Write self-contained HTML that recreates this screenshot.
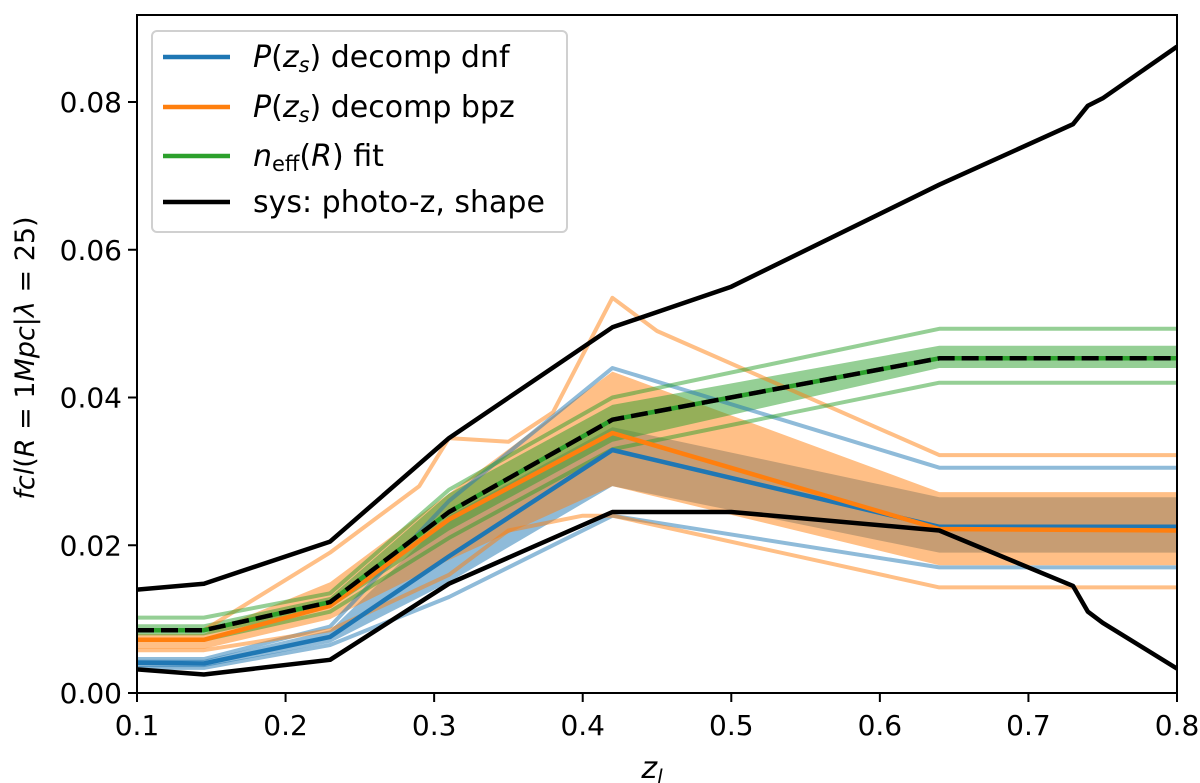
<!DOCTYPE html>
<html><head><meta charset="utf-8"><style>
body{margin:0;background:#fff}
svg text{font-family:"DejaVu Sans","Liberation Sans",sans-serif;fill:#000}
</style></head><body>
<svg id="c" width="1200" height="783" style="position:absolute;left:0;top:0" xmlns="http://www.w3.org/2000/svg"></svg>
<script>
const xs=[0.1,0.145,0.23,0.31,0.42,0.64,0.8];
const dnfMain=[0.0041,0.004,0.0076,0.0185,0.0329,0.0225,0.0225];
const dnfLo=[0.0035,0.0035,0.0068,0.015,0.028,0.019,0.019];
const dnfHi=[0.0045,0.0045,0.0085,0.024,0.036,0.0265,0.0265];
const dnfUp=[0.0046,0.0046,0.009,0.026,0.044,0.0305,0.0305];
const dnfDn=[0.0034,0.0034,0.0065,0.013,0.024,0.017,0.017];
const bpzMain=[0.0072,0.0072,0.0118,0.0235,0.0352,0.0222,0.022];
const bpzLo=[0.006,0.006,0.01,0.018,0.028,0.0173,0.0173];
const bpzHi=[0.008,0.008,0.015,0.027,0.0435,0.0272,0.0272];
const bpzUpX=[0.1,0.145,0.23,0.29,0.31,0.35,0.38,0.42,0.45,0.64,0.8];
const bpzUp=[0.0085,0.0085,0.019,0.028,0.0345,0.034,0.038,0.0535,0.049,0.0322,0.0322];
const bpzDnX=[0.1,0.145,0.23,0.31,0.35,0.4,0.42,0.64,0.8];
const bpzDn=[0.0058,0.0058,0.0085,0.016,0.022,0.024,0.024,0.0143,0.0143];
const effMain=[0.0085,0.0085,0.0123,0.0245,0.037,0.0453,0.0453];
const effLo=[0.0078,0.0078,0.0115,0.022,0.034,0.044,0.044];
const effHi=[0.0093,0.0093,0.013,0.027,0.039,0.047,0.047];
const effUp=[0.0102,0.0102,0.0135,0.0275,0.04,0.0493,0.0493];
const effDn=[0.0072,0.0072,0.011,0.021,0.033,0.042,0.042];
const sysUpX=[0.1,0.145,0.23,0.31,0.42,0.5,0.64,0.73,0.74,0.75,0.8];
const sysUp=[0.014,0.0148,0.0205,0.0345,0.0495,0.055,0.0688,0.077,0.0795,0.0805,0.0875];
const sysDnX=[0.1,0.145,0.23,0.31,0.42,0.5,0.64,0.7,0.73,0.74,0.75,0.8];
const sysDn=[0.0032,0.0025,0.0045,0.0148,0.0245,0.0245,0.022,0.017,0.0145,0.011,0.0095,0.0033];
const xTicks=[0.1,0.2,0.3,0.4,0.5,0.6,0.7,0.8];
const yTicks=[0,0.02,0.04,0.06,0.08];
const X0=137,X1=1177,Y0=693,Y1=15;
const sx=v=>X0+(v-0.1)/0.7*(X1-X0);
const sy=v=>Y0-v*7387.5;
const svg=document.getElementById('c');const NS='http://www.w3.org/2000/svg';
function mk(t,a,p){const e=document.createElementNS(NS,t);for(const k in a)e.setAttribute(k,a[k]);(p||svg).appendChild(e);return e;}
const clip=mk('clipPath',{id:'cp'});mk('rect',{x:X0,y:Y1,width:X1-X0,height:Y0-Y1},clip);
const g=mk('g',{'clip-path':'url(#cp)'});
const pts=(xa,ya)=>xa.map((x,i)=>sx(x).toFixed(1)+','+sy(ya[i]).toFixed(1));
function band(lo,hi,col,name){const p=mk('polygon',{points:pts(xs,hi).concat(pts(xs,lo).reverse()).join(' '),fill:col,'fill-opacity':0.5},g);

}
function line(xa,ya,col,w,op,name,dash){const p=mk('polyline',{points:pts(xa,ya).join(' '),fill:'none',stroke:col,'stroke-width':w,'stroke-opacity':op,'stroke-linejoin':'round'},g);if(dash)p.setAttribute('stroke-dasharray',dash);

}
const B='#1f77b4',O='#ff7f0e',G='#2ca02c';
band(dnfLo,dnfHi,B,'dnf-band');band(bpzLo,bpzHi,O,'bpz-band');band(effLo,effHi,G,'neff-band');
line(xs,dnfUp,B,4,0.5,'dnf-upper');line(xs,dnfDn,B,4,0.5,'dnf-lower');
line(bpzUpX,bpzUp,O,4,0.5,'bpz-upper');line(bpzDnX,bpzDn,O,4,0.5,'bpz-lower');
line(xs,effUp,G,4,0.5,'neff-upper');line(xs,effDn,G,4,0.5,'neff-lower');
line(xs,dnfMain,B,4.5,1,'dnf-line');line(xs,bpzMain,O,4.5,1,'bpz-line');
line(sysUpX,sysUp,'#000',4.5,1,'sys-upper');line(sysDnX,sysDn,'#000',4.5,1,'sys-lower');
line(xs,effMain,G,4.5,1,'neff-line');line(xs,effMain,'#000',4.5,1,'neff-dashed','17,7');
mk('rect',{x:X0,y:Y1,width:X1-X0,height:Y0-Y1,fill:'none',stroke:'#000','stroke-width':2,});
xTicks.forEach(t=>{mk('line',{x1:sx(t),x2:sx(t),y1:Y0,y2:Y0+9,stroke:'#000','stroke-width':2});
const e=mk('text',{x:sx(t),y:Y0+42,'font-size':28,'text-anchor':'middle'});e.textContent=t.toFixed(1);

});
yTicks.forEach(t=>{mk('line',{x1:X0-9,x2:X0,y1:sy(t),y2:sy(t),stroke:'#000','stroke-width':2});
const e=mk('text',{x:X0-15,y:sy(t)+10,'font-size':28,'text-anchor':'end'});e.textContent=t.toFixed(2);

});
</script>
<svg width="1200" height="783" style="position:absolute;left:0;top:0" xmlns="http://www.w3.org/2000/svg">
<text x="652" y="778" font-size="30" text-anchor="middle" font-style="italic">z<tspan font-size="20" dy="6">l</tspan></text>
<text transform="translate(34,358) rotate(-90)" font-size="27" text-anchor="middle"><tspan font-style="italic">fcl</tspan>(<tspan font-style="italic">R</tspan> = 1<tspan font-style="italic">Mpc</tspan>|<tspan font-style="italic">λ</tspan> = 25)</text>
<g>
<rect x="152" y="31" width="415" height="201" rx="5" fill="#fff" fill-opacity="0.8" stroke="#d0d0d0" stroke-width="2"/>
<line x1="163" x2="230" y1="57" y2="57" stroke="#1f77b4" stroke-width="4.5"/>
<text x="253" y="67" font-size="30"><tspan font-style="italic">P</tspan>(<tspan font-style="italic">z<tspan font-size="21" dy="5">s</tspan></tspan><tspan dy="-5">) decomp dnf</tspan></text>
<line x1="163" x2="230" y1="107" y2="107" stroke="#ff7f0e" stroke-width="4.5"/>
<text x="253" y="117" font-size="30"><tspan font-style="italic">P</tspan>(<tspan font-style="italic">z<tspan font-size="21" dy="5">s</tspan></tspan><tspan dy="-5">) decomp bpz</tspan></text>
<line x1="163" x2="230" y1="156" y2="156" stroke="#2ca02c" stroke-width="4.5"/>
<text x="253" y="166" font-size="30"><tspan font-style="italic">n</tspan><tspan font-size="21" dy="5">eff</tspan><tspan dy="-5">(</tspan><tspan font-style="italic">R</tspan>) fit</text>
<line x1="163" x2="230" y1="202" y2="202" stroke="#000" stroke-width="4.5"/>
<text x="253" y="212" font-size="30">sys: photo-z, shape</text>
</g>
</svg>
</body></html>
